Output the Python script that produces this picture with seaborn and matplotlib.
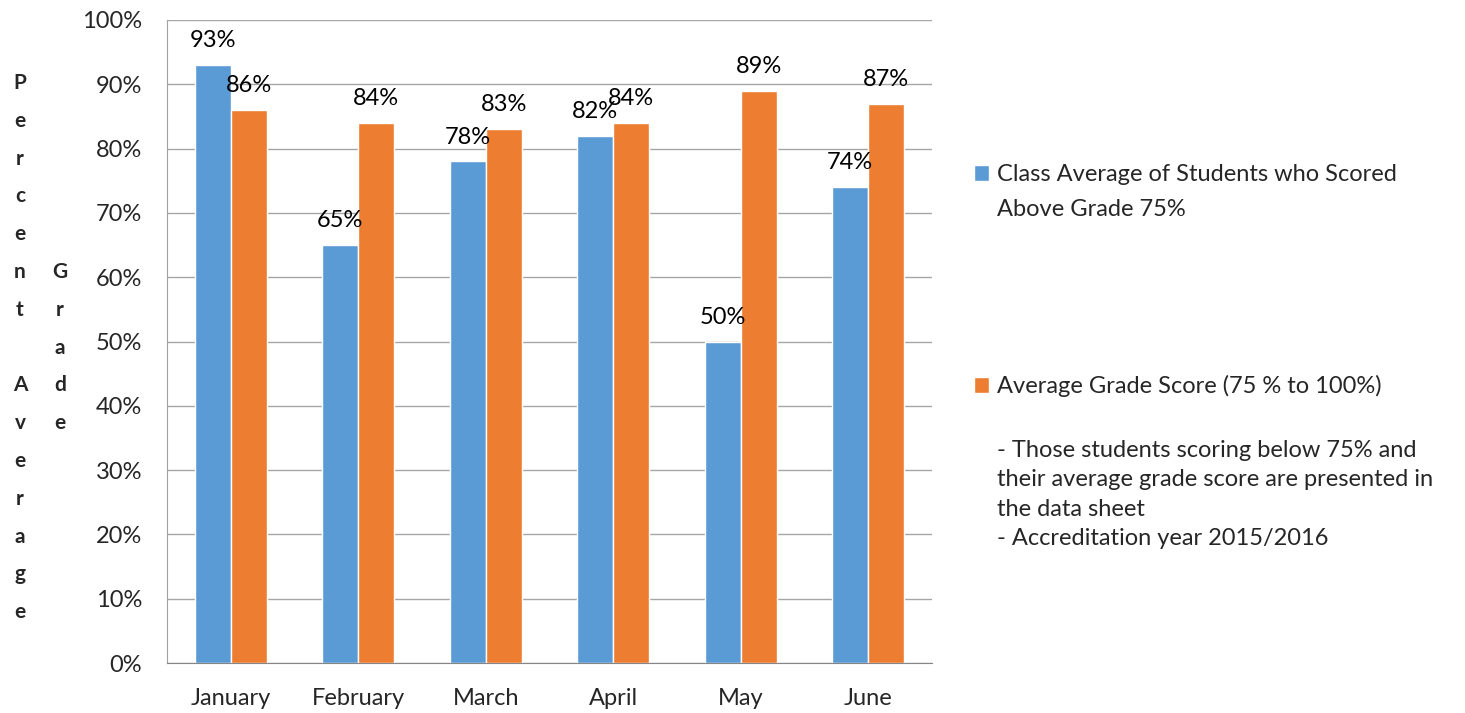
import pandas as pd
import matplotlib
matplotlib.use("Agg")
import matplotlib.pyplot as plt
import seaborn as sns

# chart data
months = ["January", "February", "March", "April", "May", "June"]
above_75 = [93, 65, 78, 82, 50, 74]
avg_grade = [86, 84, 83, 84, 89, 87]
series_names = ["Class Average of Students who Scored",
                "Average Grade Score (75 % to 100%)"]
series1_line2 = "Above Grade 75%"
note_text = ("- Those students scoring below 75% and\n"
             "their average grade score are presented in\n"
             "the data sheet\n"
             "- Accreditation year 2015/2016")
ylabel_col1 = "Percent Average"
ylabel_col2 = "Grade"

df = pd.DataFrame({
    "month": months * 2,
    "value": above_75 + avg_grade,
    "series": [series_names[0]] * 6 + [series_names[1]] * 6,
})

sns.set_style("white")
plt.rcParams["font.family"] = ["Lato", "DejaVu Sans"]
fs = 17

fig = plt.figure(figsize=(14.65, 7.13), dpi=100)
ax = fig.add_axes([0.114, 0.070, 0.522, 0.902])

sns.barplot(data=df, x="month", y="value", hue="series", ax=ax,
            palette=["#5B9BD5", "#ED7D31"], width=0.565, saturation=1)

# data labels
for cont in ax.containers:
    ax.bar_label(cont, labels=[f"{v:.0f}%" for v in cont.datavalues],
                 padding=10, fontsize=fs, color="black")

ax.set_ylim(0, 100)
ax.set_xlim(-0.5, 5.5)
ax.set_yticks(range(0, 101, 10))
ax.set_yticklabels([f"{t}%" for t in range(0, 101, 10)], fontsize=fs)
ax.set_xticks(range(6))
ax.set_xticklabels(months, fontsize=fs)
ax.set_xticks([i - 0.5 for i in range(7)], minor=True)
ax.tick_params(axis="x", which="major", length=0, pad=18)
ax.tick_params(axis="x", which="minor", length=7, color="#868686", width=1)
ax.tick_params(axis="y", length=6, color="#A0A0A0", width=1, pad=12)
ax.set_xlabel("")
ax.set_ylabel("")

ax.yaxis.grid(True, color="#A6A6A6", linewidth=1)
ax.set_axisbelow(True)
for s in ["top", "right"]:
    ax.spines[s].set_visible(False)
ax.spines["left"].set_color("#A0A0A0")
ax.spines["bottom"].set_color("#868686")

# legend on the right
sns.move_legend(ax, "upper left", bbox_to_anchor=(0.657, 0.786),
                bbox_transform=fig.transFigure, title=None, frameon=False,
                fontsize=fs, handlelength=0.62, handleheight=0.62,
                handletextpad=0.35, labelspacing=8.04, borderpad=0)

# second line of the first legend entry, under its first line
fig.canvas.draw()
leg = ax.get_legend()
bb = leg.get_texts()[0].get_window_extent().transformed(fig.transFigure.inverted())
fig.text(bb.x0, bb.y0 - 0.0187, series1_line2, fontsize=fs, va="top", ha="left")

fig.text(bb.x0, 0.383, note_text, fontsize=fs, va="top", ha="left",
         linespacing=1.5)

# stacked vertical y label letters
step = 37.8 / 713
y0 = 1 - 83 / 713
for i, ch in enumerate(ylabel_col1):
    if ch != " ":
        fig.text(20 / 1465, y0 - i * step, ch, fontsize=15, fontweight="bold",
                 ha="center", va="center")
for i, ch in enumerate(ylabel_col2):
    fig.text(60 / 1465, y0 - (i + 5) * step, ch, fontsize=15, fontweight="bold",
             ha="center", va="center")

fig.savefig("out.png", dpi=100)
